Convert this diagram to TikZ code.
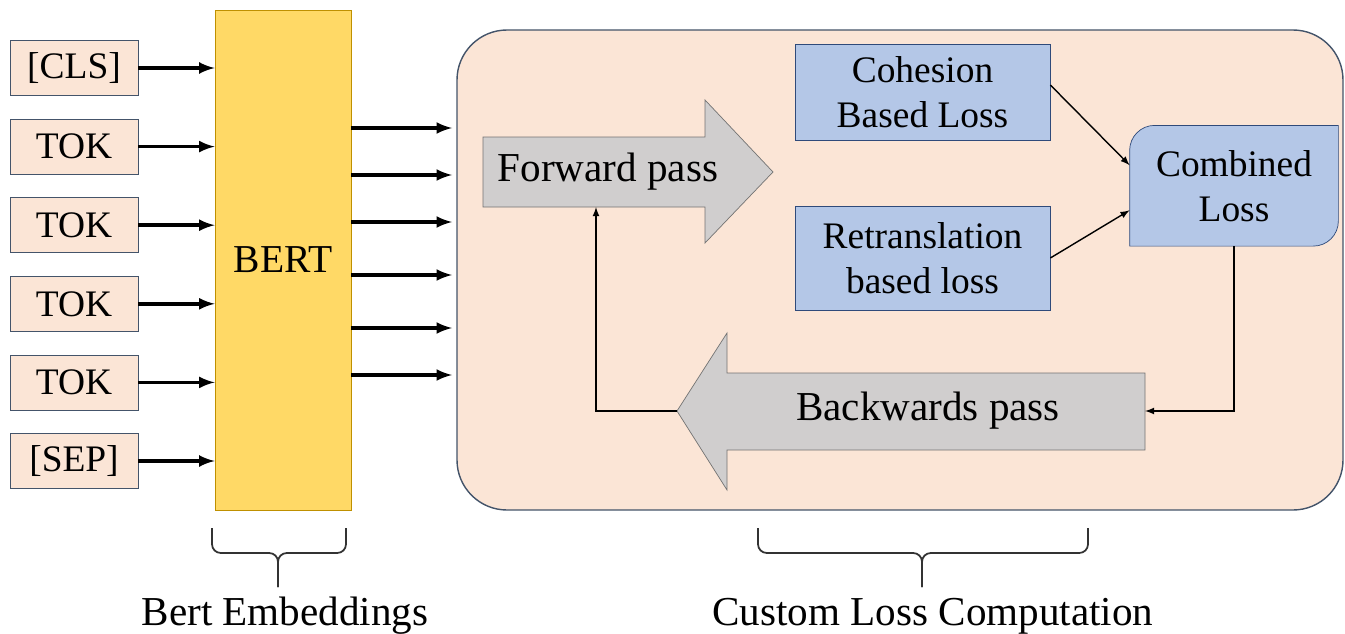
\documentclass[tikz,border=0pt]{standalone}
\usepackage{fontspec}
\setmainfont{Liberation Serif}
\usetikzlibrary{backgrounds,scopes}

\definecolor{peach}{HTML}{FBE5D6}
\definecolor{slate}{HTML}{44546A}
\definecolor{bertfill}{HTML}{FFD966}
\definecolor{bertedge}{HTML}{BF9000}
\definecolor{lossblue}{HTML}{B4C7E7}
\definecolor{lossedge}{HTML}{2F4A7A}
\definecolor{passgray}{HTML}{D0CECE}

\begin{document}
\begin{tikzpicture}[
    font=\fontsize{21.3}{25.6}\selectfont,
    tok/.style={rectangle,draw=slate,fill=peach,minimum width=2.56cm,minimum height=1.1cm,thin},
    bert/.style={rectangle,draw=bertedge,fill=bertfill,minimum width=2.72cm,minimum height=10cm,thin},
    clc/.style={rectangle,rounded corners=1cm,draw=slate,fill=peach,minimum width=17.72cm,minimum height=9.6cm,thick},
    loss/.style={rectangle,draw=lossedge,fill=lossblue,align=center,minimum width=5.1cm,thin},
    pass/.style={draw=black!55,fill=passgray,thin},
    passtext/.style={font=\fontsize{23.4}{28}\selectfont},
    caption/.style={font=\fontsize{23.4}{28}\selectfont,anchor=base},
    feed/.style={>=latex,->,line width=2pt},
    flow/.style={>=latex,->,line width=0.8pt},
    brace/.style={draw=black!80,line width=1pt,rounded corners=5pt},
]
    \useasboundingbox (0,0) rectangle (26.9,12.66);

    % container for the loss part
    \begin{scope}[on background layer]
        \node[clc] (clc) at (18.0,7.26) {};
    \end{scope}

    % input tokens and BERT
    \foreach \t [count=\i] in {{[CLS]},TOK,TOK,TOK,TOK,{[SEP]}}
        \node[tok] (t\i) at (1.48,{11.3-1.572*(\i-1)}) {\t};
    \node[bert,font=\fontsize{22.5}{27}\selectfont] (bert) at (5.66,7.46) {BERT};

    {[feed]
        \foreach \i in {1,...,6}
            \draw (t\i.east) -- (t\i.east -| bert.west);
        \foreach \y [count=\i] in {10.1,9.16,8.22,7.16,6.1,5.16} {
            \coordinate (o\i) at (9.04,\y);
            \draw (bert.east |- o\i) -- (o\i);
        }
    }

    % forward / backward passes
    \filldraw[pass] (9.66,9.92) -- (14.1,9.92) -- (14.1,10.66) -- (15.46,9.22) -- (14.1,7.8) -- (14.1,8.52) -- (9.66,8.52) -- cycle;
    \node[passtext] (fwd) at (12.16,9.22) {Forward pass};
    \coordinate (fwdbot) at (11.92,8.52);

    \filldraw[pass] (22.9,5.2) -- (14.54,5.2) -- (14.54,6.0) -- (13.54,4.44) coordinate (bwdtip) -- (14.54,2.86) -- (14.54,3.66) -- (22.9,3.66) -- cycle;
    \node[passtext] (bwd) at (18.56,4.44) {Backwards pass};
    \coordinate (bwdend) at (22.9,4.44);

    % losses
    \node[loss,minimum height=1.92cm] (coh) at (18.45,10.82) {Cohesion\\Based Loss};
    \node[loss,minimum height=2.08cm] (ret) at (18.45,7.5) {Retranslation\\based loss};
    \node[align=center,minimum width=4.16cm,minimum height=2.4cm] (comb) at (24.68,8.945) {Combined\\Loss};
    \begin{scope}[on background layer]
        \filldraw[draw=lossedge,fill=lossblue,thin] ([xshift=5mm]comb.north west) -- (comb.north east)
            -- ([yshift=5mm]comb.south east) arc[start angle=0,end angle=-90,radius=5mm]
            -- (comb.south west) -- ([yshift=-5mm]comb.north west) arc[start angle=180,end angle=90,radius=5mm] -- cycle;
    \end{scope}

    \draw[flow] ([yshift=1.4mm]coh.east) -- ([yshift=4.1mm]comb.west);
    \draw[flow] (ret.east) -- ([yshift=-4.9mm]comb.west);
    \draw[flow] (comb.south) |- (bwdend);
    \draw[flow] (bwdtip) -| (fwdbot);

    % braces and captions
    \draw[brace] (4.24,2.1) -- (4.24,1.6) -- (5.56,1.6) -- (5.56,0.92);
    \draw[brace] (6.92,2.1) -- (6.92,1.6) -- (5.56,1.6) -- (5.56,0.92);
    \node[caption] (bertlbl) at (5.7,0.16) {Bert Embeddings};

    \draw[brace] (15.16,2.1) -- (15.16,1.6) -- (18.44,1.6) -- (18.44,0.92);
    \draw[brace] (21.76,2.1) -- (21.76,1.6) -- (18.44,1.6) -- (18.44,0.92);
    \node[caption] (clclbl) at (18.66,0.16) {Custom Loss Computation};
\end{tikzpicture}
\end{document}
